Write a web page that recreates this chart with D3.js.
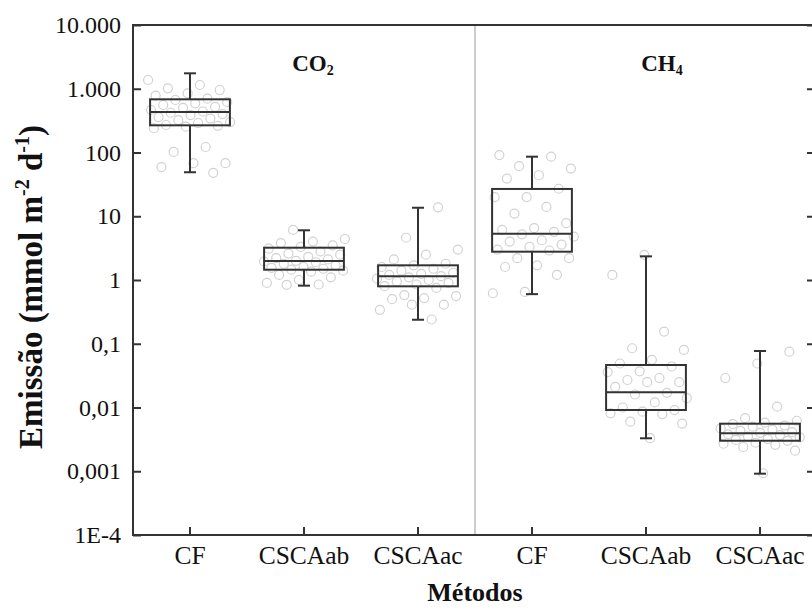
<!DOCTYPE html>
<html>
<head>
<meta charset="utf-8">
<script src="https://cdn.jsdelivr.net/npm/d3@7"></script>
<style>
  body { margin: 0; background: #fff; }
  text { font-family: "Liberation Serif", "Times New Roman", serif; fill: #111; }
</style>
</head>
<body>
<div id="chart"></div>
<script>
// categories (gas panel + method)
var methods = ["CF", "CSCAab", "CSCAac", "CF", "CSCAab", "CSCAac"];
var gases = ["CO2", "CH4"];

// box stats: [lower whisker, Q1, median, Q3, upper whisker]
var boxCO2_CF     = [49, 267, 432, 683, 1746];
var boxCO2_CSCAab = [0.815, 1.45, 1.99, 3.21, 6.02];
var boxCO2_CSCAac = [0.238, 0.796, 1.14, 1.70, 13.6];
var boxCH4_CF     = [0.60, 2.78, 5.33, 26.8, 86];
var boxCH4_CSCAab = [0.00329, 0.00914, 0.0173, 0.0464, 2.35];
var boxCH4_CSCAac = [0.000916, 0.00301, 0.00394, 0.00557, 0.0769];

// individual measurements (grey circles)
var ptsCO2_CF = [1372, 1145, 1016, 955, 849, 780, 700, 666, 620, 590, 556, 520, 500, 464, 440, 420,
                 400, 387, 360, 340, 323, 300, 290, 270, 262, 254, 240, 122, 102, 68, 68, 59, 48];
var ptsCO2_CSCAab = [6.1, 4.4, 4.0, 3.8, 3.5, 3.3, 3.1, 2.8, 2.6, 2.5, 2.3, 2.2, 2.1, 2.0, 1.95, 1.9,
                     1.8, 1.7, 1.6, 1.55, 1.5, 1.45, 1.4, 1.35, 1.2, 1.1, 1.0, 0.9, 0.85, 0.84];
var ptsCO2_CSCAac = [13.8, 4.6, 3.0, 2.5, 2.1, 1.8, 1.7, 1.6, 1.5, 1.4, 1.3, 1.25, 1.2, 1.15, 1.1,
                     1.05, 1.0, 0.95, 0.9, 0.85, 0.8, 0.75, 0.58, 0.56, 0.52, 0.5, 0.41, 0.41, 0.34, 0.24];
var ptsCH4_CF = [91, 86, 61, 56, 44, 39, 27, 20, 20, 14, 11, 7.8, 6.5, 6.1, 5.7, 5.2, 4.8, 4.2, 4.0,
                 3.6, 3.3, 3.0, 2.9, 2.2, 2.2, 1.7, 1.6, 1.2, 0.65, 0.62];
var ptsCH4_CSCAab = [2.47, 1.2, 0.155, 0.085, 0.08, 0.056, 0.049, 0.044, 0.037, 0.036, 0.029, 0.027,
                     0.025, 0.025, 0.021, 0.017, 0.016, 0.014, 0.012, 0.010, 0.0091, 0.0086, 0.0081,
                     0.0079, 0.006, 0.0056, 0.0033];
var ptsCH4_CSCAac = [0.075, 0.049, 0.029, 0.0103, 0.0068, 0.0062, 0.0058, 0.0055, 0.0052, 0.005,
                     0.0047, 0.0045, 0.0043, 0.0041, 0.004, 0.0038, 0.0037, 0.0035, 0.0034, 0.0032,
                     0.0031, 0.003, 0.0028, 0.0027, 0.0026, 0.0024, 0.0021, 0.00093];

// y ticks
var tickValues = [1e-4, 1e-3, 1e-2, 1e-1, 1, 10, 100, 1000, 10000];
var tickLabels = ["1E-4", "0,001", "0,01", "0,1", "1", "10", "100", "1.000", "10.000"];

var boxes = [boxCO2_CF, boxCO2_CSCAab, boxCO2_CSCAac, boxCH4_CF, boxCH4_CSCAab, boxCH4_CSCAac];
var points = [ptsCO2_CF, ptsCO2_CSCAab, ptsCO2_CSCAac, ptsCH4_CF, ptsCH4_CSCAab, ptsCH4_CSCAac];

var width = 812, height = 610;
var margin = {top: 25, right: -5, bottom: 75, left: 133};

var svg = d3.select("#chart").append("svg")
    .attr("width", width)
    .attr("height", height);

var x = d3.scaleBand()
    .domain(d3.range(methods.length))
    .range([margin.left, width - margin.right]);
var y = d3.scaleLog()
    .domain([1e-4, 1e4])
    .range([height - margin.bottom, margin.top]);

var boxW = x.bandwidth() * 0.7;
var capW = 12;

// separator between gases
svg.append("line")
    .attr("x1", x(3)).attr("x2", x(3))
    .attr("y1", y(1e4)).attr("y2", y(1e-4))
    .attr("stroke", "#999").attr("stroke-width", 1);

// jittered points
points.forEach(function(pts, g) {
    var cx = x(g) + x.bandwidth() / 2;
    svg.append("g").selectAll("circle")
        .data(pts)
        .enter().append("circle")
        .attr("cx", function(d, i) { return cx + (((i * 0.618034 + g * 0.37) % 1) - 0.5) * boxW * 1.05; })
        .attr("cy", function(d) { return y(d); })
        .attr("r", 4.5)
        .attr("fill", "none")
        .attr("stroke", "#d2d2d2")
        .attr("stroke-width", 1.2);
});

// boxes
var bx = svg.append("g").attr("stroke", "#333").attr("stroke-width", 2).attr("fill", "none");
boxes.forEach(function(b, g) {
    var cx = x(g) + x.bandwidth() / 2;
    bx.append("line").attr("x1", cx).attr("x2", cx).attr("y1", y(b[0])).attr("y2", y(b[1]));
    bx.append("line").attr("x1", cx).attr("x2", cx).attr("y1", y(b[3])).attr("y2", y(b[4]));
    bx.append("line").attr("x1", cx - capW / 2).attr("x2", cx + capW / 2).attr("y1", y(b[0])).attr("y2", y(b[0]));
    bx.append("line").attr("x1", cx - capW / 2).attr("x2", cx + capW / 2).attr("y1", y(b[4])).attr("y2", y(b[4]));
    bx.append("rect")
        .attr("x", cx - boxW / 2).attr("width", boxW)
        .attr("y", y(b[3])).attr("height", y(b[1]) - y(b[3]));
    bx.append("line").attr("x1", cx - boxW / 2).attr("x2", cx + boxW / 2).attr("y1", y(b[2])).attr("y2", y(b[2]));
});

// axes
var yAxis = d3.axisLeft(y).tickValues(tickValues)
    .tickFormat(function(d, i) { return tickLabels[i]; })
    .tickSizeInner(-8).tickSizeOuter(0).tickPadding(12);
var gy = svg.append("g").attr("transform", "translate(" + margin.left + ",0)").call(yAxis);

var yAxisR = d3.axisRight(y).tickValues(tickValues).tickFormat("")
    .tickSizeInner(-10).tickSizeOuter(0);
var gyr = svg.append("g").attr("transform", "translate(" + (width - margin.right) + ",0)").call(yAxisR);

var xAxis = d3.axisBottom(x)
    .tickFormat(function(d) { return methods[d]; })
    .tickSizeInner(-8).tickSizeOuter(0).tickPadding(11);
var gx = svg.append("g").attr("transform", "translate(0," + (height - margin.bottom) + ")").call(xAxis);

[gy, gyr, gx].forEach(function(g) {
    g.select(".domain").remove();
    g.selectAll(".tick line").attr("stroke", "#333").attr("stroke-width", 2);
    g.selectAll(".tick text").attr("font-family", "Liberation Serif").attr("fill", "#111");
});
gy.selectAll(".tick text").attr("font-size", 24);
gx.selectAll(".tick text").attr("font-size", 25.5);

// frame
svg.append("rect")
    .attr("x", margin.left).attr("y", margin.top)
    .attr("width", width - margin.right - margin.left)
    .attr("height", height - margin.bottom - margin.top)
    .attr("fill", "none").attr("stroke", "#333").attr("stroke-width", 2);

// gas labels
var co2 = svg.append("text").attr("x", 313).attr("y", 71).attr("text-anchor", "middle")
    .attr("font-size", 23).attr("font-weight", "bold");
co2.append("tspan").text("CO");
co2.append("tspan").attr("font-size", 14).attr("dy", 4).text("2");
var ch4 = svg.append("text").attr("x", 662).attr("y", 71).attr("text-anchor", "middle")
    .attr("font-size", 23).attr("font-weight", "bold");
ch4.append("tspan").text("CH");
ch4.append("tspan").attr("font-size", 14).attr("dy", 4).text("4");

// axis titles
svg.append("text").attr("x", 475).attr("y", 601).attr("text-anchor", "middle")
    .attr("font-size", 26).attr("font-weight", "bold").text("Métodos");

var yt = svg.append("text")
    .attr("transform", "translate(42,287) rotate(-90)")
    .attr("text-anchor", "middle")
    .attr("font-size", 33).attr("font-weight", "bold");
yt.append("tspan").text("Emissão (mmol m");
yt.append("tspan").attr("font-size", 20).attr("dy", -13).text("-2");
yt.append("tspan").attr("dy", 13).text(" d");
yt.append("tspan").attr("font-size", 20).attr("dy", -13).text("-1");
yt.append("tspan").attr("dy", 13).text(")");
</script>
</body>
</html>
